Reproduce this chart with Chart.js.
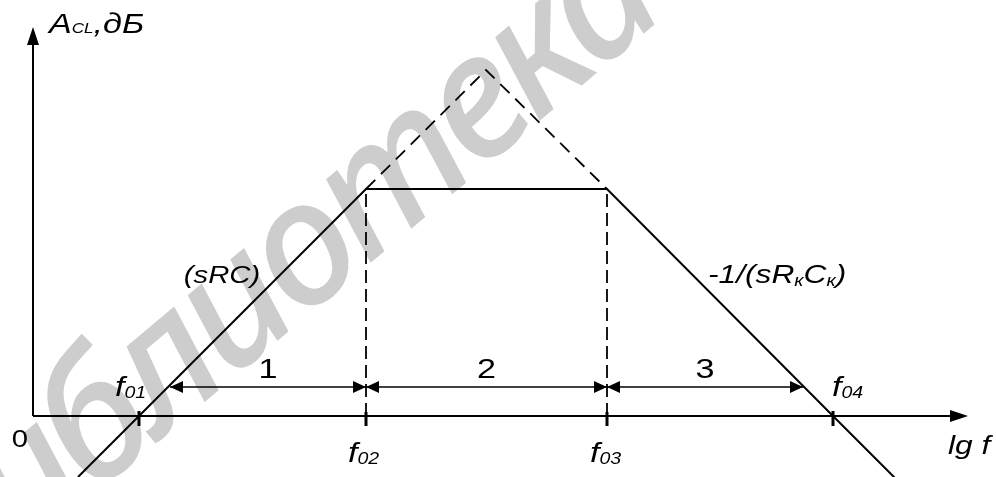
<!DOCTYPE html>
<html>
<head>
<meta charset="utf-8">
<script src="https://cdn.jsdelivr.net/npm/chart.js@4"></script>
<style>
html,body{margin:0;padding:0;background:#fff;}
#c{display:block;}
</style>
</head>
<body>
<canvas id="c" width="996" height="477"></canvas>
<script>
// ---- data (units: x = lg f, y = A_CL, dB; arbitrary units) ----
const cornerFreqs = [10.6, 33.3, 57.4, 80.0];      // f01, f02, f03, f04
const cornerSubs = ['01', '02', '03', '04'];
const responseX = [4.5, 10.6, 33.3, 57.4, 80.0, 86.2];
const responseY = [-6.1, 0, 22.7, 22.7, 0, -6.2];
const asymptoteX = [33.3, 45.3, 57.4];
const asymptoteY = [22.7, 34.6, 22.7];
const zoneLabels = ['1', '2', '3'];
const zoneStart = [13.7, 33.3, 57.4];
const zoneEnd = [33.3, 57.4, 77.0];
const zoneLevel = 2.9;
const axisTopY = 38.9;
const axisRightX = 93.5;
const watermarkText = 'библиотека';

const pts = (xs, ys) => xs.map((x, i) => ({x, y: ys[i]}));

const datasets = [
  {data: pts(responseX, responseY), borderColor: '#000', borderWidth: 2, showLine: true, pointRadius: 0, tension: 0},
  {data: pts(asymptoteX, asymptoteY), borderColor: '#000', borderWidth: 1.8, borderDash: [13, 8], showLine: true, pointRadius: 0},
  {data: [{x: cornerFreqs[1], y: 0}, {x: cornerFreqs[1], y: responseY[2]}], borderColor: '#000', borderWidth: 1.8, borderDash: [13, 6], showLine: true, pointRadius: 0},
  {data: [{x: cornerFreqs[2], y: 0}, {x: cornerFreqs[2], y: responseY[3]}], borderColor: '#000', borderWidth: 1.8, borderDash: [13, 6], showLine: true, pointRadius: 0}
];
zoneStart.forEach((s, i) => {
  datasets.push({data: [{x: s, y: zoneLevel}, {x: zoneEnd[i], y: zoneLevel}], borderColor: '#000', borderWidth: 1.6, showLine: true, pointRadius: 0});
});

const SX = 1.22; // horizontal stretch of the original lettering

function rich(ctx, parts, x, y, align) {
  // parts: [text, size, italic, dy]
  ctx.save();
  ctx.translate(x, y);
  ctx.scale(SX, 1);
  let total = 0;
  const ws = parts.map(p => {
    ctx.font = (p[2] ? 'italic ' : '') + p[1] + 'px "Liberation Sans", Arial, sans-serif';
    const w = ctx.measureText(p[0]).width;
    total += w;
    return w;
  });
  let cx = align === 'center' ? -total / 2 : (align === 'right' ? -total : 0);
  ctx.textBaseline = 'alphabetic';
  ctx.textAlign = 'left';
  ctx.fillStyle = '#000';
  parts.forEach((p, i) => {
    ctx.font = (p[2] ? 'italic ' : '') + p[1] + 'px "Liberation Sans", Arial, sans-serif';
    ctx.fillText(p[0], cx, p[3] || 0);
    cx += ws[i];
  });
  ctx.restore();
}

function tri(ctx, tipX, tipY, dirX, dirY, len, half) {
  const bx = tipX - dirX * len, by = tipY - dirY * len;
  const nx = -dirY, ny = dirX;
  ctx.beginPath();
  ctx.moveTo(tipX, tipY);
  ctx.lineTo(bx + nx * half, by + ny * half);
  ctx.lineTo(bx - nx * half, by - ny * half);
  ctx.closePath();
  ctx.fill();
}

const decor = {
  id: 'decor',
  beforeDatasetsDraw(chart) {
    const {ctx, scales: {x, y}} = chart;
    // watermark
    ctx.save();
    ctx.fillStyle = '#cdcdcd';
    ctx.font = 'italic 500 172px "Noto Sans", "Liberation Sans", sans-serif';
    ctx.textBaseline = 'middle';
    try { ctx.letterSpacing = '-8px'; } catch (e) {}
    const th = -40 * Math.PI / 180;
    const pre = ctx.measureText(watermarkText.slice(0, 2)).width;
    const cw = ctx.measureText(watermarkText[2]).width;
    const d = pre + cw / 2;
    const px = 95, py = 430;
    ctx.translate(px - d * Math.cos(th), py - d * Math.sin(th));
    ctx.rotate(th);
    ctx.fillText(watermarkText, 0, 0);
    ctx.restore();

    // axes
    const x0 = x.getPixelForValue(0), y0 = y.getPixelForValue(0);
    const yTop = y.getPixelForValue(axisTopY), xRight = x.getPixelForValue(axisRightX);
    ctx.save();
    ctx.strokeStyle = '#000';
    ctx.fillStyle = '#000';
    ctx.lineWidth = 2;
    ctx.beginPath();
    ctx.moveTo(x0, y0); ctx.lineTo(x0, yTop + 10);
    ctx.moveTo(x0, y0); ctx.lineTo(xRight - 10, y0);
    ctx.stroke();
    tri(ctx, x0, yTop, 0, -1, 18, 6);
    tri(ctx, xRight, y0, 1, 0, 18, 6);
    // ticks
    cornerFreqs.forEach((f, i) => {
      const px = x.getPixelForValue(f);
      ctx.lineWidth = 3;
      ctx.beginPath();
      ctx.moveTo(px, y0 - (i === 1 || i === 2 ? 4 : 5));
      ctx.lineTo(px, y0 + 10);
      ctx.stroke();
    });
    ctx.restore();
  },
  afterDatasetsDraw(chart) {
    const {ctx, scales: {x, y}} = chart;
    ctx.save();
    ctx.fillStyle = '#000';
    const yl = y.getPixelForValue(zoneLevel);
    zoneStart.forEach((s, i) => {
      tri(ctx, x.getPixelForValue(s), yl, -1, 0, 13, 6);
      tri(ctx, x.getPixelForValue(zoneEnd[i]), yl, 1, 0, 13, 6);
      rich(ctx, [[zoneLabels[i], 28, false, 0]], x.getPixelForValue((s + zoneEnd[i]) / 2), yl - 9, 'center');
    });
    // corner frequency labels
    const lab = (i, px, py) => rich(ctx, [['f', 28, true, 0], [cornerSubs[i], 16, true, 2]], px, py, 'left');
    lab(0, x.getPixelForValue(cornerFreqs[0]) - 24, y.getPixelForValue(0) - 20);
    lab(1, x.getPixelForValue(cornerFreqs[1]) - 18, y.getPixelForValue(0) + 46);
    lab(2, x.getPixelForValue(cornerFreqs[2]) - 17, y.getPixelForValue(0) + 46);
    lab(3, x.getPixelForValue(cornerFreqs[3]) - 1, y.getPixelForValue(0) - 20);
    // origin
    rich(ctx, [['0', 24, false, 0]], x.getPixelForValue(0) - 13, y.getPixelForValue(0) + 31, 'center');
    // axis titles
    rich(ctx, [['A', 28, true, 0], ['CL', 14, true, 0], [',дБ', 28, true, 0]], x.getPixelForValue(0) + 16, y.getPixelForValue(axisTopY) + 6, 'left');
    rich(ctx, [['lg f', 26, true, 0]], x.getPixelForValue(axisRightX) - 20, y.getPixelForValue(0) + 38, 'left');
    // slope annotations
    rich(ctx, [['(sRC)', 24, true, 0]], x.getPixelForValue(18.9), y.getPixelForValue(13.3), 'center');
    rich(ctx, [['-1/(sR', 26, true, 0], ['к', 16, true, 3], ['C', 26, true, 0], ['к', 16, true, 3], [')', 26, true, 0]], x.getPixelForValue(67.5), y.getPixelForValue(13.3), 'left');
    ctx.restore();
  }
};

new Chart(document.getElementById('c'), {
  type: 'scatter',
  data: {datasets},
  options: {
    responsive: false,
    animation: false,
    devicePixelRatio: 1,
    layout: {padding: 0},
    plugins: {legend: {display: false}, tooltip: {enabled: false}},
    scales: {
      x: {type: 'linear', min: -3.3, max: 96.3, display: false},
      y: {type: 'linear', min: -6.1, max: 41.6, display: false}
    }
  },
  plugins: [decor]
});
</script>
</body>
</html>
